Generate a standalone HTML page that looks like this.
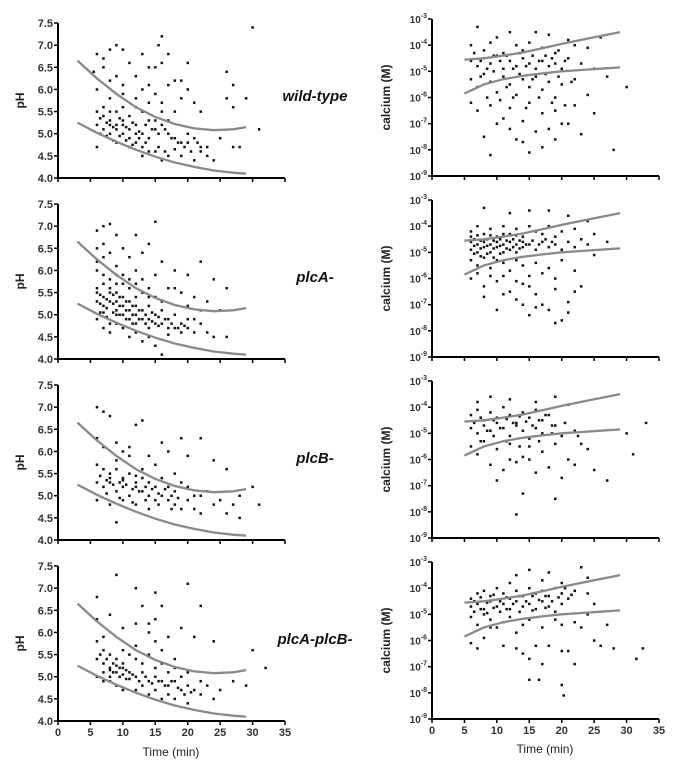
<!DOCTYPE html>
<html><head><meta charset="utf-8"><style>
body{margin:0;background:#fff}
svg{display:block;font-family:"Liberation Sans",sans-serif}
</style></head><body>
<svg id="c" width="676" height="771" viewBox="0 0 676 771"></svg>
<script>
const xTicks=[0,5,10,15,20,25,30,35];
const phTicks=[4.0,4.5,5.0,5.5,6.0,6.5,7.0,7.5];
const caTicks=[-9,-8,-7,-6,-5,-4,-3];
const strains=["wild-type","plcA-","plcB-","plcA-plcB-"];
const phUpperT=[3,6,9,12,15,18,21,24,27,29];
const phUpperV=[6.65,6.25,5.9,5.6,5.38,5.22,5.12,5.08,5.1,5.15];
const phLowerT=[3,6,9,12,15,18,21,24,27,29];
const phLowerV=[5.25,5.02,4.82,4.64,4.48,4.35,4.25,4.17,4.12,4.1];
const caUpperT=[5,8,11,14,17,20,23,26,29];
const caUpperV=[-4.55,-4.5,-4.4,-4.28,-4.12,-3.95,-3.8,-3.65,-3.5];
const caLowerT=[5,8,11,14,17,20,23,26,29];
const caLowerV=[-5.85,-5.5,-5.3,-5.17,-5.08,-5.0,-4.95,-4.9,-4.85];
const ph0=[[6,6.8],[7,6.7],[8,6.9],[9,7.0],[10,6.9],[13,6.8],[16,7.2],[15.5,7.0],[17,6.8],[20,6.6],[30,7.4],[5.5,6.4],[7,6.5],[9,6.3],[11,6.6],[12,6.3],[14,6.1],[15,6.5],[16,6.6],[18,6.2],[20,6.0],[21,5.7],[26,6.4],[27,6.1],[26,5.8],[29,5.8],[27,5.6],[6,6.0],[8,5.8],[10,5.9],[12,5.8],[14,5.7],[16,5.7],[18,5.5],[22,5.5],[6,5.5],[7,5.4],[8,5.3],[9,5.2],[10,5.3],[11,5.1],[12,5.2],[13,5.0],[14,5.3],[15,5.1],[16,5.2],[17,5.0],[18,4.9],[19,4.8],[20,4.8],[21,4.9],[22,4.7],[6,5.2],[7,5.1],[8,5.0],[9,5.1],[10,5.0],[11,4.9],[12,4.8],[13,4.7],[14,4.6],[15,4.6],[16,4.4],[17,4.5],[19,4.5],[21,4.4],[23,4.5],[24,4.4],[6,4.7],[9,4.8],[11,4.7],[13,4.5],[7,5.6],[9,5.5],[11,5.4],[13,5.5],[15,5.3],[17,5.3],[20,5.0],[23,4.7],[25,4.9],[27,4.7],[28,4.7],[31,5.1],[10,5.2],[8,5.2],[12,5.0],[14,4.9],
[6.5,5.35],[7.5,5.25],[8.5,5.15],[9.5,5.35],[10.5,5.15],[11.5,5.25],[12.5,5.05],[13.5,5.2],[14.5,5.1],[15.5,5.0],[16.5,5.1],[17.5,4.9],[18.5,4.8],[19.5,4.7],[20.5,4.6],[21.5,4.8],[7.5,4.95],[8.5,4.85],[9.5,4.95],[10.5,4.85],[11.5,4.75],[12.5,4.9],[13.5,4.8],[15.5,4.7],[16.5,4.6],[18,4.65],[8,6.2],[10,6.1],[13,6.0],[15,5.9],[17,6.1],[19,5.8],[14,6.5],[12,5.6],[10,5.6],[8,5.5],[6.5,5.0],[22,4.6],[19,6.2],[16,5.5]];
const ph1=[[6,6.9],[7,7.0],[8,7.05],[9,6.8],[12,6.8],[15,7.1],[6,6.5],[7,6.6],[8,6.4],[10,6.5],[11,6.3],[13,6.4],[14,6.6],[16,6.2],[18,6.0],[20,5.9],[22,6.2],[24,5.8],[26,5.6],[6,6.0],[7,5.9],[8,5.8],[9,5.7],[10,5.9],[11,5.6],[12,5.7],[13,5.5],[15,5.4],[17,5.6],[19,5.5],[21,5.4],[23,5.3],[25,5.1],[6,5.5],[6,5.3],[7,5.4],[7,5.2],[8,5.5],[8,5.3],[9,5.3],[9,5.1],[10,5.4],[10,5.2],[10,5.0],[11,5.3],[11,5.1],[12,5.2],[12,5.0],[13,5.1],[13,4.9],[14,5.2],[14,4.9],[15,5.0],[15,4.8],[16,5.1],[16,4.8],[17,4.9],[17,4.7],[18,5.0],[18,4.7],[19,4.8],[19,4.6],[20,4.9],[20,4.7],[21,4.6],[22,4.8],[23,4.6],[24,4.5],[26,4.5],[6,4.9],[7,4.7],[8,4.6],[9,4.8],[11,4.5],[13,4.4],[15,4.3],[16,4.1],[6,5.6],[8,5.6],[9,5.5],[12,5.4],[14,5.4],[16,5.3],[7,5.05],[9,5.0],[11,4.9],[12,4.8],[14,4.7],
[6.5,5.45],[6.5,5.25],[6.5,5.05],[7.5,5.35],[7.5,5.15],[7.5,4.95],[8.5,5.45],[8.5,5.25],[8.5,5.05],[9.5,5.4],[9.5,5.2],[9.5,5.0],[10.5,5.3],[10.5,5.1],[10.5,4.9],[11.5,5.2],[11.5,5.0],[11.5,4.8],[12.5,5.1],[12.5,4.9],[13.5,5.0],[13.5,4.8],[14.5,5.05],[14.5,4.85],[15.5,4.95],[15.5,4.75],[16.5,4.9],[17.5,4.8],[18.5,4.7],[19.5,4.75],[6,6.2],[7,6.3],[9,6.1],[10,5.7],[12,6.0],[13,5.8],[15,5.9],[18,5.6],[20,5.2],[22,5.1],[7,5.7],[9,5.9],[11,5.8],[14,5.6],[8,4.8],[10,4.7],[12,4.6],[14,4.5],[17,4.55],[21,4.9]];
const ph2=[[6,7.0],[7,6.9],[8,6.8],[12,6.6],[13,6.7],[16,6.2],[19,6.3],[22,6.3],[6,6.3],[7,6.1],[9,6.2],[10,6.0],[11,5.9],[14,5.9],[15,5.7],[17,6.0],[20,5.9],[24,5.8],[26,5.6],[6,5.7],[7,5.6],[8,5.5],[9,5.6],[10,5.4],[11,5.5],[12,5.3],[13,5.4],[14,5.3],[15,5.2],[16,5.4],[17,5.2],[18,5.1],[19,5.3],[21,5.0],[23,5.1],[6,5.3],[7,5.2],[8,5.3],[9,5.1],[10,5.2],[11,5.0],[12,5.2],[13,5.1],[14,5.0],[15,4.9],[16,5.0],[17,4.9],[18,4.8],[19,4.7],[20,4.9],[21,4.7],[22,4.6],[24,4.8],[26,4.6],[28,4.5],[6,4.9],[8,4.8],[10,4.9],[12,4.8],[14,4.7],[9,4.4],[28,5.0],[30,5.2],[31,4.8],[8,5.4],[10,5.35],[12,5.45],[27,4.8],
[6.5,5.45],[7.5,5.35],[8.5,5.25],[9.5,5.3],[10.5,5.25],[11.5,5.15],[12.5,5.1],[13.5,5.2],[14.5,5.15],[15.5,5.05],[16.5,5.15],[17.5,5.0],[18.5,4.95],[7.5,5.05],[9.5,4.95],[11.5,4.85],[13.5,4.9],[15.5,4.8],[17.5,4.7],[9,5.8],[11,6.1],[13,5.6],[18,5.5],[20,5.2],[22,5.0],[25,4.9]];
const ph3=[[6,6.8],[9,7.3],[12,7.0],[15,6.9],[13,6.6],[16,6.6],[20,7.1],[22,6.6],[6,6.3],[8,6.4],[10,6.1],[12,6.2],[14,6.0],[15,6.3],[17,5.9],[19,6.1],[21,5.9],[24,5.8],[6,5.8],[7,5.6],[8,5.5],[9,5.4],[10,5.3],[11,5.5],[12,5.4],[13,5.3],[14,5.5],[15,5.2],[16,5.3],[17,5.1],[18,5.2],[19,5.0],[20,5.1],[22,4.9],[6,5.4],[7,5.3],[8,5.2],[9,5.25],[10,5.2],[11,5.1],[12,5.0],[13,5.1],[14,4.9],[15,5.0],[16,4.9],[17,4.8],[18,4.9],[19,4.7],[20,4.8],[21,4.7],[22,4.6],[23,4.8],[25,4.7],[6,5.0],[7,4.9],[8,4.9],[9,4.8],[10,4.7],[12,4.7],[14,4.6],[16,4.5],[18,4.5],[20,4.4],[24,4.5],[29,4.8],[30,5.6],[32,5.2],[8,5.15],[9,5.1],[10,5.05],[11,4.95],[27,4.9],
[6.5,5.5],[7.5,5.4],[8.5,5.3],[8.5,5.1],[9.5,5.2],[9.5,5.0],[10.5,5.15],[10.5,4.95],[11.5,5.05],[12.5,4.9],[13.5,5.0],[14.5,4.85],[15.5,4.9],[16.5,4.8],[17.5,4.9],[18.5,4.75],[19.5,4.6],[20.5,4.65],[7,5.1],[8,5.0],[13,4.8],[15,4.7],[17,4.6],[14,6.2],[15,5.8],[12,5.7],[10,5.6],[7,5.9],[16,5.6],[18,5.4]];
const ca0=[[7,-3.3],[10,-3.7],[12,-3.5],[16,-3.5],[18,-3.6],[21,-3.8],[6,-4.0],[8,-4.2],[9,-3.9],[11,-4.3],[13,-4.0],[14,-4.2],[15,-3.9],[17,-4.1],[19,-4.3],[22,-4.0],[24,-4.1],[26,-3.7],[6,-4.6],[7,-4.8],[8,-4.5],[9,-4.7],[10,-4.4],[11,-4.9],[12,-4.6],[13,-4.8],[14,-4.5],[15,-4.7],[16,-4.9],[17,-4.6],[18,-4.8],[19,-4.7],[20,-4.9],[21,-4.5],[23,-4.7],[25,-4.9],[6,-5.3],[7,-5.6],[8,-5.1],[9,-5.4],[10,-5.8],[11,-5.2],[12,-5.5],[13,-5.9],[14,-5.3],[15,-5.6],[16,-5.2],[17,-5.7],[18,-5.4],[19,-6.0],[20,-5.5],[22,-5.3],[24,-5.9],[27,-5.2],[30,-5.6],[6,-6.2],[7,-6.5],[9,-6.3],[11,-6.8],[12,-6.4],[14,-6.9],[15,-6.2],[16,-7.3],[17,-6.6],[18,-7.2],[19,-6.5],[20,-7.0],[22,-6.3],[23,-7.4],[25,-6.6],[8,-7.5],[13,-7.6],[17,-7.9],[9,-8.2],[15,-8.1],[28,-8.0],
[6.5,-4.3],[7.5,-4.6],[8.5,-4.9],[9.5,-4.4],[10.5,-4.6],[11.5,-4.4],[12.5,-4.9],[13.5,-4.3],[14.5,-4.8],[15.5,-4.4],[16.5,-4.6],[17.5,-4.4],[18.5,-4.5],[19.5,-4.2],[20.5,-4.6],[7.5,-5.2],[9.5,-5.0],[11.5,-5.6],[13.5,-5.1],[15.5,-5.3],[17.5,-5.1],[19.5,-5.2],[21.5,-5.4],[8.5,-6.0],[10.5,-6.1],[12.5,-6.0],[14.5,-6.4],[16.5,-6.0],[18.5,-6.2],[20.5,-6.3],[10,-7.0],[12,-7.2],[14,-7.7],[19,-7.6],[21,-7.0]];
const ca1=[[8,-3.3],[12,-3.5],[15,-3.4],[18,-3.4],[21,-3.6],[24,-3.8],[6,-4.2],[7,-4.0],[8,-4.3],[9,-4.1],[10,-4.4],[11,-4.0],[12,-4.3],[13,-4.1],[14,-4.4],[15,-4.0],[16,-4.2],[17,-4.3],[18,-4.0],[20,-4.2],[22,-4.1],[25,-4.3],[6,-4.6],[6,-4.9],[7,-4.7],[7,-5.0],[8,-4.6],[8,-4.8],[9,-4.7],[9,-5.0],[10,-4.6],[10,-4.8],[11,-4.7],[11,-5.0],[12,-4.6],[12,-4.9],[13,-4.7],[13,-5.0],[14,-4.6],[14,-4.8],[15,-4.7],[16,-4.9],[17,-4.6],[18,-4.8],[19,-4.7],[20,-4.9],[21,-4.6],[22,-4.8],[24,-4.7],[6,-5.3],[7,-5.5],[8,-5.2],[9,-5.6],[10,-5.3],[11,-5.4],[12,-5.7],[13,-5.3],[14,-5.5],[15,-5.9],[16,-5.4],[18,-5.6],[20,-5.3],[22,-5.7],[6,-6.0],[8,-6.3],[10,-6.1],[12,-6.5],[13,-6.8],[14,-6.2],[16,-6.6],[17,-7.0],[19,-6.4],[21,-6.9],[23,-6.3],[10,-7.2],[15,-7.4],[18,-7.2],[20,-7.6],[21,-7.3],
[6.5,-4.5],[6.5,-4.75],[6.5,-5.05],[7.5,-4.55],[7.5,-4.85],[7.5,-5.15],[8.5,-4.5],[8.5,-4.75],[8.5,-5.05],[9.5,-4.55],[9.5,-4.85],[9.5,-5.2],[10.5,-4.5],[10.5,-4.75],[10.5,-5.05],[11.5,-4.55],[11.5,-4.85],[12.5,-4.5],[12.5,-4.8],[13.5,-4.55],[13.5,-4.85],[14.5,-4.7],[15.5,-4.55],[16.5,-4.7],[17.5,-4.5],[18.5,-4.6],[6,-4.4],[7,-4.35],[9,-4.35],[11,-4.3],[13,-4.35],[19,-4.4],[23,-4.5],[7,-5.8],[9,-5.9],[11,-5.9],[13,-6.1],[15,-6.3],[17,-5.8],[19,-6.0],[8,-6.7],[11,-6.6],[14,-7.0],[16,-7.1],[19,-7.7],[22,-6.5],[25,-5.1],[27,-4.6]];
const ca2=[[7,-3.8],[9,-3.6],[12,-3.7],[16,-3.8],[19,-3.6],[21,-3.9],[6,-4.3],[7,-4.1],[8,-4.5],[9,-4.2],[10,-4.4],[11,-4.0],[12,-4.3],[13,-4.6],[14,-4.2],[15,-4.4],[16,-4.1],[17,-4.5],[18,-4.3],[6,-4.8],[7,-5.0],[8,-4.7],[9,-4.9],[10,-4.6],[11,-4.8],[12,-5.1],[13,-4.7],[14,-4.9],[15,-5.2],[16,-4.8],[17,-5.0],[19,-4.7],[20,-5.1],[22,-4.9],[6,-5.5],[7,-5.8],[8,-5.3],[10,-5.6],[12,-5.4],[14,-5.9],[15,-5.5],[17,-5.7],[19,-5.4],[21,-6.0],[24,-5.6],[9,-6.2],[11,-6.4],[13,-6.1],[16,-6.5],[18,-6.3],[20,-6.7],[22,-6.2],[25,-6.4],[27,-6.8],[30,-5.0],[31,-5.8],[33,-4.6],[14,-7.3],[19,-7.5],[13,-8.1],
[6.5,-4.6],[7.5,-4.4],[8.5,-4.9],[9.5,-4.5],[10.5,-4.8],[11.5,-4.45],[12.5,-4.6],[13.5,-4.35],[14.5,-4.55],[15.5,-4.7],[16.5,-4.5],[17.5,-4.3],[18.5,-4.7],[7.5,-5.3],[9.5,-5.1],[11.5,-5.3],[13.5,-5.5],[16.5,-5.3],[18.5,-5.0],[20.5,-4.6],[22.5,-5.1],[10,-6.8],[12,-6.0],[15,-6.0],[23,-5.4]];
const ca3=[[13,-3.5],[15,-3.3],[18,-3.4],[23,-3.2],[24,-3.6],[6,-4.4],[7,-4.2],[8,-4.1],[9,-4.3],[10,-4.0],[11,-4.2],[12,-4.4],[13,-4.1],[14,-4.3],[15,-4.0],[16,-4.2],[17,-4.1],[18,-4.3],[19,-4.0],[20,-4.2],[21,-4.4],[22,-4.1],[24,-4.2],[6,-4.7],[7,-4.6],[8,-4.8],[9,-4.5],[10,-4.7],[11,-4.6],[12,-4.8],[13,-4.5],[14,-4.7],[15,-4.6],[16,-4.8],[17,-4.5],[18,-4.7],[19,-4.9],[20,-4.6],[25,-4.6],[6,-5.1],[7,-5.4],[8,-5.0],[9,-5.2],[10,-5.5],[12,-5.1],[13,-5.7],[15,-5.2],[17,-5.5],[20,-5.4],[22,-5.3],[23,-5.5],[27,-5.4],[6,-6.1],[7,-6.3],[8,-5.9],[11,-6.2],[13,-6.3],[14,-6.5],[15,-6.7],[16,-6.2],[17,-6.9],[18,-6.2],[20,-6.4],[21,-6.4],[22,-6.9],[25,-6.0],[26,-6.2],[28,-6.3],[31.5,-6.7],[32.5,-6.3],[15,-7.5],[16.5,-7.5],[20,-7.7],[20.3,-8.1],
[6.5,-4.5],[7.5,-4.35],[8.5,-4.55],[9.5,-4.25],[10.5,-4.5],[11.5,-4.35],[12.5,-4.6],[13.5,-4.3],[14.5,-4.5],[15.5,-4.3],[16.5,-4.45],[17.5,-4.3],[18.5,-4.5],[19.5,-4.35],[20.5,-4.0],[21.5,-4.25],[6.5,-4.9],[7.5,-4.8],[8.5,-4.95],[9.5,-4.75],[10.5,-4.9],[11.5,-4.8],[13.5,-4.9],[15.5,-4.85],[17.5,-4.75],[12,-3.8],[17,-3.7],[20,-3.8],[9,-5.5],[11,-5.3],[14,-5.4],[19,-5.2],[24,-5.0]];
const phData=[ph0,ph1,ph2,ph3];
const caData=[ca0,ca1,ca2,ca3];

const NS="http://www.w3.org/2000/svg";
const svg=document.getElementById('c');
function mk(tag,attrs,parent){const e=document.createElementNS(NS,tag);for(const k in attrs)e.setAttribute(k,attrs[k]);(parent||svg).appendChild(e);return e;}
const tops=[23,204,385,566], H=155;
const leftX0=58, rightX0=432, W=227;
function xs(x0){return t=>x0+t/35*W;}

strains.forEach((s,i)=>{
  const top=tops[i], bot=top+H;
  const gx=xs(leftX0), gy=v=>bot-(v-4)/3.5*H;
  const gL=mk('g',{});
  
  
  phData[i].forEach(p=>{const r=mk('rect',{x:gx(p[0])-1.2,y:gy(p[1])-1.2,width:2.5,height:2.5,fill:'#111'},gL);
    
    });
  [[phUpperT,phUpperV],[phLowerT,phLowerV]].forEach((c,j)=>{
    const d=c[0].map((t,k)=>(k?'L':'M')+gx(t).toFixed(1)+' '+gy(c[1][k]).toFixed(1)).join(' ');
    const p=mk('path',{d:d,fill:'none',stroke:'#8a8a8a','stroke-width':2.3},gL);
    
    
  });
  const ax=mk('path',{d:`M${leftX0} ${top} V${bot} H${leftX0+W}`,fill:'none',stroke:'#000','stroke-width':2},gL);
  
  
  phTicks.forEach(v=>{mk('line',{x1:leftX0-4,x2:leftX0,y1:gy(v),y2:gy(v),stroke:'#000','stroke-width':1.5},gL);
    const t=mk('text',{x:leftX0-5,y:gy(v)+4,'text-anchor':'end','font-size':11,'font-weight':'bold',fill:'#333'},gL);t.textContent=v.toFixed(1);
    
    });
  xTicks.forEach(v=>{mk('line',{x1:gx(v),x2:gx(v),y1:bot,y2:bot+4,stroke:'#000','stroke-width':1.5},gL);
    if(i===3){const t=mk('text',{x:gx(v),y:bot+15,'text-anchor':'middle','font-size':11,'font-weight':'bold',fill:'#333'},gL);t.textContent=v;
      
      }});
  const yl=mk('text',{x:0,y:0,transform:`translate(24 ${(top+bot)/2}) rotate(-90)`,'text-anchor':'middle','font-size':12,'font-weight':'bold',fill:'#222'},gL);yl.textContent='pH';
  
  
  const lbl=mk('text',{x:315,y:top+78,'text-anchor':'middle','font-size':15,'font-weight':'bold','font-style':'italic',fill:'#111'});lbl.textContent=s;
  
  

  const rtop=top-4, rbot=rtop+157;
  const rx=xs(rightX0), ry=v=>rbot-(v+9)/6*157;
  const gR=mk('g',{});
  
  
  caData[i].forEach(p=>{const r=mk('rect',{x:rx(p[0])-1.2,y:ry(p[1])-1.2,width:2.5,height:2.5,fill:'#111'},gR);
    
    });
  [[caUpperT,caUpperV],[caLowerT,caLowerV]].forEach((c,j)=>{
    const d=c[0].map((t,k)=>(k?'L':'M')+rx(t).toFixed(1)+' '+ry(c[1][k]).toFixed(1)).join(' ');
    const p=mk('path',{d:d,fill:'none',stroke:'#8a8a8a','stroke-width':2.3},gR);
    
    
  });
  const ax2=mk('path',{d:`M${rightX0} ${rtop} V${rbot} H${rightX0+W}`,fill:'none',stroke:'#000','stroke-width':2},gR);
  
  
  caTicks.forEach(v=>{mk('line',{x1:rightX0-4,x2:rightX0,y1:ry(v),y2:ry(v),stroke:'#000','stroke-width':1.5},gR);
    const t=mk('text',{x:rightX0-5,y:ry(v)+4,'text-anchor':'end','font-size':10,'font-weight':'bold',fill:'#333'},gR);
    const a=mk('tspan',{},t);a.textContent='10';
    const b=mk('tspan',{dy:-5,'font-size':7},t);b.textContent=String(v);
    
    });
  xTicks.forEach(v=>{mk('line',{x1:rx(v),x2:rx(v),y1:rbot,y2:rbot+4,stroke:'#000','stroke-width':1.5},gR);
    if(i===3){const t=mk('text',{x:rx(v),y:rbot+15,'text-anchor':'middle','font-size':11,'font-weight':'bold',fill:'#333'},gR);t.textContent=v;
      
      }});
  const yl2=mk('text',{x:0,y:0,transform:`translate(390 ${(rtop+rbot)/2}) rotate(-90)`,'text-anchor':'middle','font-size':12,'font-weight':'bold',fill:'#222'},gR);yl2.textContent='calcium (M)';
  
  
});
const xt1=mk('text',{x:171,y:756,'text-anchor':'middle','font-size':12,fill:'#222'});xt1.textContent='Time (min)';


const xt2=mk('text',{x:545,y:753,'text-anchor':'middle','font-size':12,fill:'#222'});xt2.textContent='Time (min)';


</script>
</body></html>
